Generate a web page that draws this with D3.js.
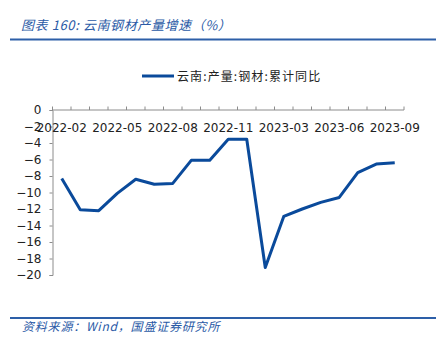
<!DOCTYPE html>
<html>
<head>
<meta charset="utf-8">
<script src="https://cdn.jsdelivr.net/npm/d3@7"></script>
<style>
  body { margin: 0; background: #fff; }
  svg { display: block; font-family: "Noto Sans CJK SC", "DejaVu Sans", sans-serif; }
</style>
</head>
<body>
<svg id="chart" width="437" height="353"></svg>
<script>
// 数据：云南钢材产量累计同比（%）
const months = ["2022-02","2022-03","2022-04","2022-05","2022-06","2022-07","2022-08","2022-09","2022-10","2022-11","2022-12",
                "2023-02","2023-03","2023-04","2023-05","2023-06","2023-07","2023-08","2023-09"];
const values = [-8.3, -12.1, -12.2, -10.1, -8.4, -9.0, -8.9, -6.1, -6.1, -3.55, -3.55,
                -19.1, -12.9, -12.0, -11.2, -10.6, -7.6, -6.55, -6.4];
const xTickLabels = ["2022-02","2022-05","2022-08","2022-11","2023-03","2023-06","2023-09"];
const yTicks = [0, -2, -4, -6, -8, -10, -12, -14, -16, -18, -20];
const seriesName = "云南:产量:钢材:累计同比";

const svg = d3.select("#chart");
const blue = "#0a4a9b";
const axisColor = "#8c8c8c";

// 标题与分隔线
svg.append("text").attr("x", 21).attr("y", 30)
  .attr("fill", "#2a5aa6").attr("font-size", 13).attr("font-style", "italic")
  .attr("letter-spacing", 0.6)
  .text("图表 160:  云南钢材产量增速（%）");
svg.append("line").attr("x1", 10).attr("x2", 436).attr("y1", 39.5).attr("y2", 39.5)
  .attr("stroke", "#2d5fa8").attr("stroke-width", 2);
svg.append("line").attr("x1", 10).attr("x2", 436).attr("y1", 318).attr("y2", 318)
  .attr("stroke", "#2d5fa8").attr("stroke-width", 2);
svg.append("text").attr("x", 22).attr("y", 331)
  .attr("fill", "#2a5aa6").attr("font-size", 12).attr("font-style", "italic")
  .attr("letter-spacing", 0.8)
  .text("资料来源：Wind，国盛证券研究所");

// 比例尺
const x = d3.scaleBand().domain(months).range([52.5, 404]);
const y = d3.scaleLinear().domain([-20, 0]).range([275, 110]);

// 图例
svg.append("line").attr("x1", 142).attr("x2", 174).attr("y1", 76).attr("y2", 76)
  .attr("stroke", blue).attr("stroke-width", 3);
svg.append("text").attr("x", 177).attr("y", 80.5)
  .attr("font-size", 12).attr("fill", "#222").attr("letter-spacing", 1.1).text(seriesName);

// Y 轴
const yAxis = svg.append("g").attr("transform", `translate(${x.range()[0]},0)`)
  .call(d3.axisLeft(y).tickValues(yTicks).tickSize(3).tickPadding(8).tickFormat(d3.format("d")));
yAxis.select(".domain").attr("stroke", axisColor);
yAxis.selectAll(".tick line").attr("stroke", axisColor);
yAxis.selectAll(".tick text").attr("font-size", 12).attr("fill", "#222")
  .attr("font-family", "'DejaVu Sans', sans-serif");

// X 轴（位于 0 处，刻度朝上，标签在下）
const xAxisG = svg.append("g").attr("transform", `translate(0,${y(0)})`);
xAxisG.append("line").attr("x1", x.range()[0]).attr("x2", x.range()[1])
  .attr("stroke", axisColor);
const boundaries = months.map(m => x(m)).concat([x.range()[1]]);
xAxisG.selectAll(".xtick").data(boundaries).join("line")
  .attr("class", "xtick")
  .attr("x1", d => d).attr("x2", d => d).attr("y1", 0).attr("y2", -3.5)
  .attr("stroke", axisColor);
xAxisG.selectAll(".xlab").data(xTickLabels).join("text")
  .attr("class", "xlab")
  .attr("x", d => x(d) + x.bandwidth() / 2).attr("y", 22)
  .attr("text-anchor", "middle").attr("font-size", 12).attr("fill", "#222")
  .attr("font-family", "'DejaVu Sans', sans-serif")
  .text(d => d);

// 折线
const line = d3.line()
  .x((d, i) => x(months[i]) + x.bandwidth() / 2)
  .y(d => y(d));
svg.append("path").datum(values)
  .attr("fill", "none").attr("stroke", blue).attr("stroke-width", 3)
  .attr("stroke-linejoin", "round")
  .attr("d", line);
</script>
</body>
</html>
